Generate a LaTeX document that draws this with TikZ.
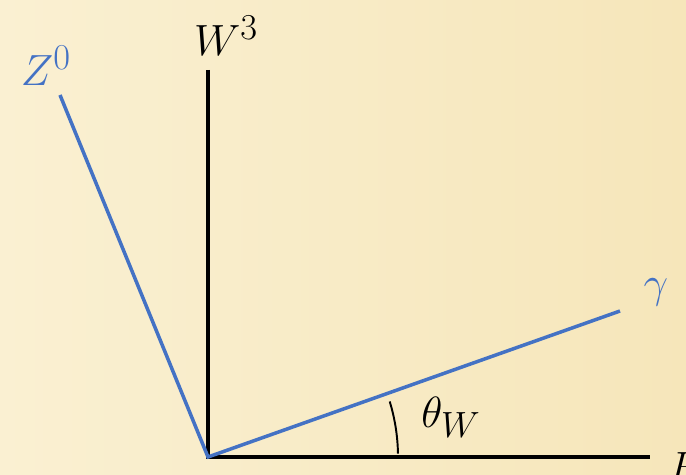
\documentclass[tikz,border=0pt]{standalone}
\usepackage{amsmath,amssymb}
\usepackage{xcolor}
\usepackage{tikz}
\usetikzlibrary{positioning}

\definecolor{bgleft}{HTML}{FAF0D2}
\definecolor{bgright}{HTML}{F6E6BA}
\definecolor{mixblue}{HTML}{4472C4}

\begin{document}
\begin{tikzpicture}[
  x=0.02cm, y=0.02cm,
  axis/.style={draw=black, line width=2.2pt},
  rotated/.style={draw=mixblue, line width=2pt},
  anglearc/.style={draw=black, line width=1.1pt},
  axislabel/.style={font=\fontsize{28}{32}\selectfont, inner sep=0pt},
  bosonlabel/.style={axislabel, text=mixblue}
]

% Background
\shade[left color=bgleft, right color=bgright] (0,0) rectangle (686,474);
\useasboundingbox (0,0) rectangle (686,474);

% Points
\coordinate (o)  at (208,17);
\coordinate (w3) at (208,404);
\coordinate (b)  at (650,17);
\coordinate (z0) at (60,379);
\coordinate (ga) at (620,163);

% Axes
\draw[axis] (w3) -- (o) -- (b);

% Rotated basis
\draw[rotated] (z0) -- (o) -- (ga);

% Mixing angle
\draw[anglearc] (o) ++(1:190) arc (1:17:190);

% Labels
\node[axislabel] (lw3) at (226,438) {$W^3$};
\node[axislabel, anchor=west] (lb) at (668,6) {$B$};
\node[bosonlabel] (lz0) at (46,408) {$Z^0$};
\node[bosonlabel] (lga) at (656,182) {$\gamma$};
\node[axislabel] (lth) at (451,57) {$\theta_W$};

\end{tikzpicture}
\end{document}
